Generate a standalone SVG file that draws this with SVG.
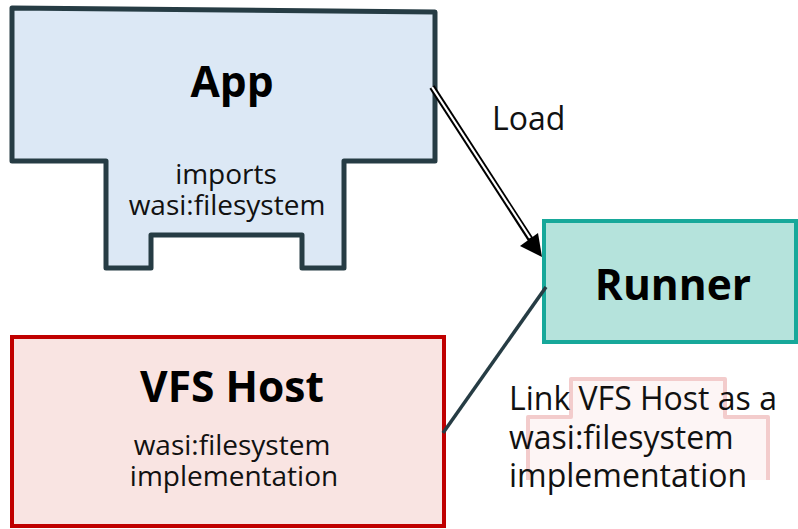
<svg xmlns="http://www.w3.org/2000/svg" width="798" height="529" viewBox="0 0 798 529">
  <style>
    .title { font-family: "Open Sans", "Noto Sans", sans-serif; font-weight: bold; font-size: 42.5px; fill: #000; text-anchor: middle; }
    .body { font-family: "Open Sans", "Noto Sans", sans-serif; font-size: 28px; fill: #111; text-anchor: middle; }
    .label { font-family: "Open Sans", "Noto Sans", sans-serif; font-size: 32px; fill: #111; }
  </style>

  <rect width="798" height="529" fill="#fff"/>

  <!-- faint shape behind the link label -->
  <g id="label-shadow">
    <path d="M528,480 V417 H571 V379 H725 V417 H768 V480 Z" fill="#fdf5f5" stroke="none"/>
    <path d="M528,480 V417 H571 V379 H725 V417 H768 V480" fill="none" stroke="#f3cccc" stroke-width="4" stroke-linejoin="round"/>
  </g>

  <g id="app">
    <path d="M12,8 L435,12 V161 H344 V268 H302 V235 H151 V268 H106 V161 H12 Z" fill="#dce8f5" stroke="#263c44" stroke-width="5" stroke-linejoin="round"/>
    <text class="title" x="232" y="97">App</text>
    <text class="body" x="226" y="184">imports</text>
    <text class="body" x="227" y="215">wasi:filesystem</text>
  </g>

  <g id="runner">
    <rect x="544" y="221" width="252" height="121" fill="#b5e3dc" stroke="#17a89a" stroke-width="4"/>
    <text class="title" x="673" y="300">Runner</text>
  </g>

  <g id="vfs-host">
    <rect x="12" y="337" width="432" height="189" fill="#f9e4e2" stroke="#c00000" stroke-width="4"/>
    <text class="title" x="232" y="402">VFS Host</text>
    <text class="body" x="232" y="455">wasi:filesystem</text>
    <text class="body" x="234" y="486">implementation</text>
  </g>

  <g id="connectors">
    <!-- Load: double line with arrowhead -->
    <line x1="432" y1="87" x2="531" y2="240" stroke="#000" stroke-width="6"/>
    <line x1="432" y1="87" x2="530" y2="238" stroke="#fff" stroke-width="2.2"/>
    <path d="M542,257 L520,246 L538,233 Z" fill="#000"/>
    <text class="label" x="492" y="130">Load</text>

    <!-- Link -->
    <line x1="546" y1="287" x2="443" y2="433" stroke="#263c44" stroke-width="3.5"/>
    <text class="label" x="509" y="410">Link VFS Host as a</text>
    <text class="label" x="509" y="449">wasi:filesystem</text>
    <text class="label" x="509" y="487">implementation</text>
  </g>
</svg>
